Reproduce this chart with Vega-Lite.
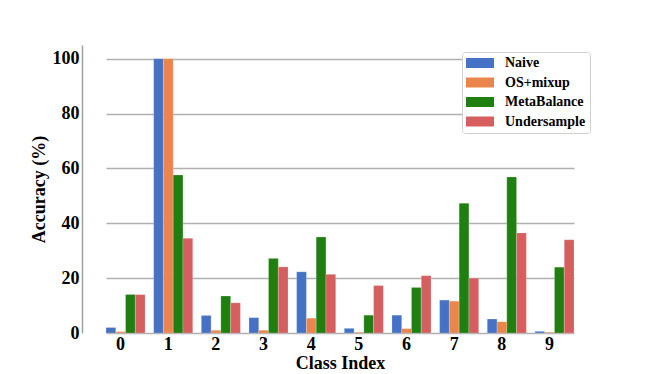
{
  "$schema": "https://vega.github.io/schema/vega-lite/v6.json",
  "width": 545,
  "height": 288,
  "autosize": "none",
  "padding": {"left": 82, "top": 45, "right": 37, "bottom": 41},
  "background": "white",
  "config": {
    "font": "Liberation Serif",
    "view": {"stroke": null},
    "axis": {"labelFont": "Liberation Serif", "titleFont": "Liberation Serif", "labelFontWeight": "bold", "titleFontWeight": "bold", "labelColor": "black", "titleColor": "black"},
    "legend": {"labelFont": "Liberation Serif", "labelFontWeight": "bold", "labelFontSize": 14, "labelColor": "black"}
  },
  "data": {
    "values": [
      {"cls": "0", "method": "Naive", "acc": 2.0},
      {"cls": "0", "method": "OS+mixup", "acc": 0.5},
      {"cls": "0", "method": "MetaBalance", "acc": 14.0},
      {"cls": "0", "method": "Undersample", "acc": 14.0},
      {"cls": "1", "method": "Naive", "acc": 100.0},
      {"cls": "1", "method": "OS+mixup", "acc": 100.0},
      {"cls": "1", "method": "MetaBalance", "acc": 57.6},
      {"cls": "1", "method": "Undersample", "acc": 34.5},
      {"cls": "2", "method": "Naive", "acc": 6.4},
      {"cls": "2", "method": "OS+mixup", "acc": 1.0},
      {"cls": "2", "method": "MetaBalance", "acc": 13.5},
      {"cls": "2", "method": "Undersample", "acc": 11.0},
      {"cls": "3", "method": "Naive", "acc": 5.6},
      {"cls": "3", "method": "OS+mixup", "acc": 1.0},
      {"cls": "3", "method": "MetaBalance", "acc": 27.2},
      {"cls": "3", "method": "Undersample", "acc": 24.1},
      {"cls": "4", "method": "Naive", "acc": 22.3},
      {"cls": "4", "method": "OS+mixup", "acc": 5.4},
      {"cls": "4", "method": "MetaBalance", "acc": 35.0},
      {"cls": "4", "method": "Undersample", "acc": 21.4},
      {"cls": "5", "method": "Naive", "acc": 1.7},
      {"cls": "5", "method": "OS+mixup", "acc": 0.3},
      {"cls": "5", "method": "MetaBalance", "acc": 6.5},
      {"cls": "5", "method": "Undersample", "acc": 17.3},
      {"cls": "6", "method": "Naive", "acc": 6.5},
      {"cls": "6", "method": "OS+mixup", "acc": 1.6},
      {"cls": "6", "method": "MetaBalance", "acc": 16.6},
      {"cls": "6", "method": "Undersample", "acc": 20.9},
      {"cls": "7", "method": "Naive", "acc": 12.0},
      {"cls": "7", "method": "OS+mixup", "acc": 11.6},
      {"cls": "7", "method": "MetaBalance", "acc": 47.3},
      {"cls": "7", "method": "Undersample", "acc": 20.0},
      {"cls": "8", "method": "Naive", "acc": 5.1},
      {"cls": "8", "method": "OS+mixup", "acc": 4.1},
      {"cls": "8", "method": "MetaBalance", "acc": 56.9},
      {"cls": "8", "method": "Undersample", "acc": 36.5},
      {"cls": "9", "method": "Naive", "acc": 0.6},
      {"cls": "9", "method": "OS+mixup", "acc": 0.3},
      {"cls": "9", "method": "MetaBalance", "acc": 24.0},
      {"cls": "9", "method": "Undersample", "acc": 34.0}
    ]
  },
  "mark": {"type": "bar", "stroke": "white", "strokeOpacity": 0.35, "strokeWidth": 0.6},
  "encoding": {
    "x": {
      "field": "cls", "type": "nominal",
      "scale": {"range": [24, 492], "paddingInner": 0.18, "paddingOuter": 0},
      "axis": {"title": "Class Index", "labelAngle": 0, "labelFontSize": 18, "titleFontSize": 18, "ticks": false, "domain": false, "grid": false, "labelPadding": 2, "labelOffset": -5, "titlePadding": 1, "titleX": 258}
    },
    "xOffset": {
      "field": "method", "type": "nominal",
      "sort": ["Naive", "OS+mixup", "MetaBalance", "Undersample"],
      "scale": {"paddingInner": 0, "paddingOuter": 0}
    },
    "y": {
      "field": "acc", "type": "quantitative",
      "scale": {"domain": [0, 105], "nice": false},
      "axis": {"title": "Accuracy (%)", "values": [0, 20, 40, 60, 80, 100], "labelFontSize": 18, "titleFontSize": 18, "ticks": false, "labelPadding": 3, "titlePadding": 4, "grid": true, "gridColor": "#b0b0b0", "gridWidth": 1.5, "domainColor": "#a0a0a0", "domainWidth": 1.5}
    },
    "color": {
      "field": "method", "type": "nominal",
      "scale": {"domain": ["Naive", "OS+mixup", "MetaBalance", "Undersample"], "range": ["#4572c4", "#ea854b", "#1f7f10", "#d65e5e"]},
      "legend": {
        "title": null,
        "orient": "none",
        "legendX": 380,
        "legendY": 7,
        "labelFontSize": 14,
        "labelFont": "Liberation Serif",
        "labelFontWeight": "bold",
        "labelColor": "black",
        "symbolType": "M-1,-0.714H3V0.714H-1Z",
        "symbolSize": 196,
        "symbolOpacity": 1,
        "symbolStrokeWidth": 0,
        "labelOffset": 25,
        "rowPadding": 5.5,
        "padding": 4,
        "strokeColor": "#d0d0d0",
        "fillColor": "white",
        "cornerRadius": 3
      }
    }
  }
}
